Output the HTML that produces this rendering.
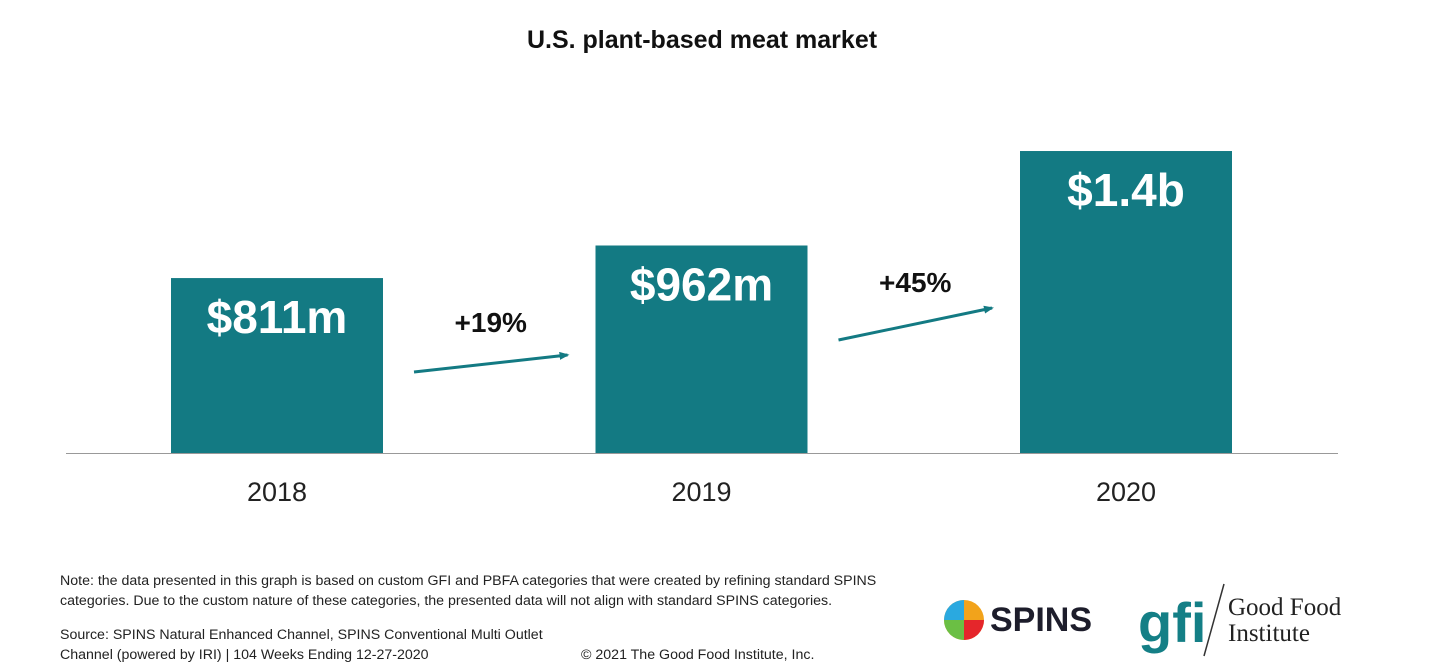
<!DOCTYPE html>
<html><head><meta charset="utf-8"><style>
body{margin:0;background:#fff;font-family:"Liberation Sans",sans-serif;}
#wrap{position:relative;width:1456px;height:668px;overflow:hidden;background:#fff}
.note{position:absolute;font-size:14.2px;color:#222;line-height:20px}
</style></head><body>
<div id="wrap">
<svg id="chart" width="1456" height="560" style="position:absolute;left:0;top:0">
<text x="702" y="48" text-anchor="middle" font-size="25" font-weight="bold" font-family="Liberation Sans" fill="#111">U.S. plant-based meat market</text>
<line x1="66" y1="453.5" x2="1338" y2="453.5" stroke="#999" stroke-width="1"/>
</svg>
<div class="note" style="left:60px;top:571px">Note: the data presented in this graph is based on custom GFI and PBFA categories that were created by refining standard SPINS<br>categories. Due to the custom nature of these categories, the presented data will not align with standard SPINS categories.</div>
<div class="note" style="left:60px;top:625px">Source: SPINS Natural Enhanced Channel, SPINS Conventional Multi Outlet<br>Channel (powered by IRI) | 104 Weeks Ending 12-27-2020</div>
<div class="note" style="left:581px;top:645px">© 2021 The Good Food Institute, Inc.</div>
<svg width="520" height="100" style="position:absolute;left:930px;top:570px">
<g>
<circle cx="34" cy="50" r="20" fill="#f2a31b"/>
<path d="M14 50 A20 20 0 0 1 34 30 L34 50Z" fill="#2aa9e0"/>
<path d="M14 50 A20 20 0 0 0 34 70 L34 50Z" fill="#6bbf44"/>
<path d="M34 70 A20 20 0 0 0 54 50 L34 50Z" fill="#e5262b"/>
</g>
<text x="60" y="61" font-size="34" font-weight="bold" font-family="Liberation Sans" fill="#1d1d2b">SPINS</text>
<text x="208" y="72" font-size="56" font-weight="bold" font-family="Liberation Sans" fill="#147f86">gfi</text>
<line x1="294" y1="14" x2="274" y2="86" stroke="#333" stroke-width="1.5"/>
<text x="298" y="45" font-size="25" font-family="Liberation Serif" fill="#222">Good Food</text>
<text x="298" y="71" font-size="25" font-family="Liberation Serif" fill="#222">Institute</text>
</svg>
</div>
<script>
const years=["2018","2019","2020"];
const values=[811,962,1400];
const valueLabels=["$811m","$962m","$1.4b"];
const growthLabels=["+19%","+45%"];
const svg=document.getElementById('chart');
const NS='http://www.w3.org/2000/svg';
const baseY=453, pxPer=0.2157;
const x0=171, step=424.5, bw=212;
function xPos(i){return x0+i*step;}
function yPos(v){return baseY-v*pxPer;}
function mk(t,a){const e=document.createElementNS(NS,t);for(const k in a)e.setAttribute(k,a[k]);svg.appendChild(e);return e;}
const defs=document.createElementNS(NS,'defs');
defs.innerHTML='<marker id="ah" markerWidth="10" markerHeight="8" refX="8" refY="4" orient="auto" markerUnits="userSpaceOnUse"><path d="M0,0 L10,4 L0,8Z" fill="#137a83"/></marker>';
svg.appendChild(defs);
values.forEach((v,i)=>{
  const r=mk('rect',{x:xPos(i),y:yPos(v),width:bw,height:baseY-yPos(v),fill:'#137a83'});
  
  
  const t=mk('text',{x:xPos(i)+bw/2,y:yPos(v)+55,'text-anchor':'middle','font-size':46,'font-weight':'bold','font-family':'Liberation Sans',fill:'#fff'});
  t.textContent=valueLabels[i];
  
  
  const y=mk('text',{x:xPos(i)+bw/2,y:501,'text-anchor':'middle','font-size':27,'font-family':'Liberation Sans',fill:'#222'});
  y.textContent=years[i];
  
  
});
growthLabels.forEach((g,i)=>{
  const xa=xPos(i)+bw+31, xb=xPos(i+1)-28;
  const ya=372-i*32, yb=355-i*47;
  const l=mk('line',{x1:xa,y1:ya,x2:xb,y2:yb,stroke:'#137a83','stroke-width':3,'marker-end':'url(#ah)'});
  
  
  const t=mk('text',{x:(xa+xb)/2,y:332-i*40,'text-anchor':'middle','font-size':28,'font-weight':'bold','font-family':'Liberation Sans',fill:'#111'});
  t.textContent=g;
  
  
});
</script>
</body></html>
